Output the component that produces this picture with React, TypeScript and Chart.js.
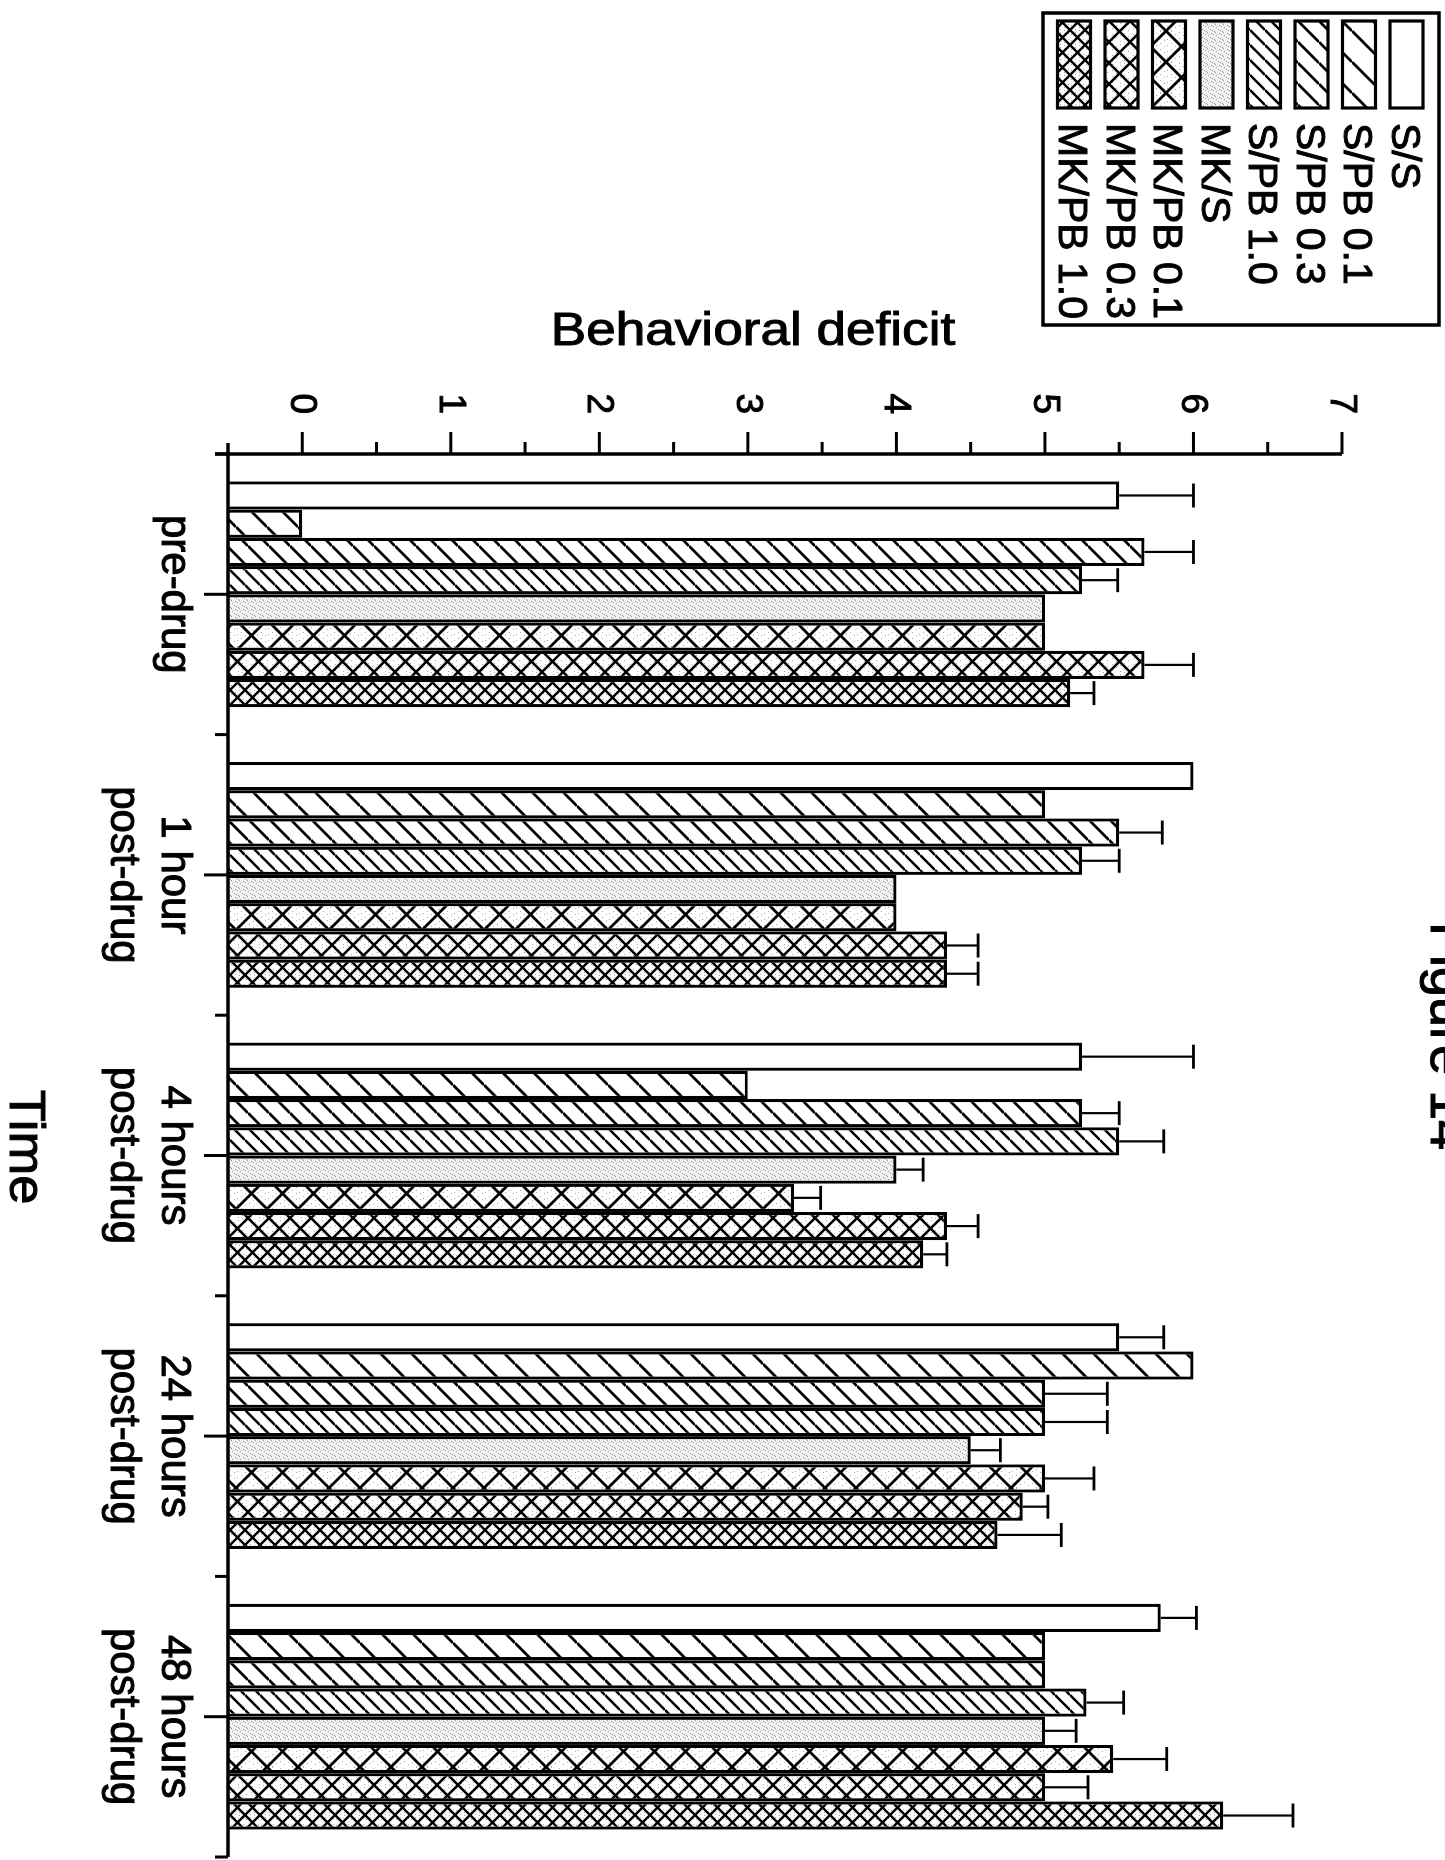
import React, { useEffect, useRef } from 'react';
import { Chart, registerables } from 'chart.js';

Chart.register(...registerables);

// ---------- data ----------
const categories: string[][] = [
  ['pre-drug'],
  ['1 hour', 'post-drug'],
  ['4 hours', 'post-drug'],
  ['24 hours', 'post-drug'],
  ['48 hours', 'post-drug'],
];
const seriesNames = ['S/S', 'S/PB 0.1', 'S/PB 0.3', 'S/PB 1.0', 'MK/S', 'MK/PB 0.1', 'MK/PB 0.3', 'MK/PB 1.0'];

const ssValues = [5.5, 6.0, 5.25, 5.5, 5.78];
const ssErrors = [0.5, 0, 0.75, 0.3, 0.24];
const spb01Values = [0.0, 5.0, 3.0, 6.0, 5.0];
const spb01Errors = [0, 0, 0, 0, 0];
const spb03Values = [5.67, 5.5, 5.25, 5.0, 5.0];
const spb03Errors = [0.33, 0.29, 0.25, 0.42, 0];
const spb10Values = [5.25, 5.25, 5.5, 5.0, 5.28];
const spb10Errors = [0.24, 0.25, 0.3, 0.42, 0.25];
const mksValues = [5.0, 4.0, 4.0, 4.5, 5.0];
const mksErrors = [0, 0, 0.18, 0.2, 0.21];
const mkpb01Values = [5.0, 4.0, 3.31, 5.0, 5.46];
const mkpb01Errors = [0, 0, 0.18, 0.33, 0.36];
const mkpb03Values = [5.67, 4.34, 4.34, 4.85, 5.0];
const mkpb03Errors = [0.33, 0.21, 0.21, 0.17, 0.29];
const mkpb10Values = [5.17, 4.34, 4.18, 4.68, 6.2];
const mkpb10Errors = [0.16, 0.21, 0.16, 0.43, 0.47];

const valueTicks = [0, 1, 2, 3, 4, 5, 6, 7];
const yTitle = 'Behavioral deficit';
const xTitle = 'Time';
const figureLabel = 'Figure 14';

const allValues = [ssValues, spb01Values, spb03Values, spb10Values, mksValues, mkpb01Values, mkpb03Values, mkpb10Values];
const allErrors = [ssErrors, spb01Errors, spb03Errors, spb10Errors, mksErrors, mkpb01Errors, mkpb03Errors, mkpb10Errors];

// ---------- styling ----------
const FONT = '"Liberation Sans", Arial, Helvetica, sans-serif';
const W = 1860;
const H = 1445;

type FillSpec = { kind: 'plain' } | { kind: 'stipple' } | { kind: 'hatch'; period: number; lw: number } | { kind: 'cross'; period: number; lw: number };
const fillSpecs: FillSpec[] = [
  { kind: 'plain' },
  { kind: 'hatch', period: 31, lw: 2.8 },
  { kind: 'hatch', period: 21, lw: 2.7 },
  { kind: 'hatch', period: 15, lw: 2.5 },
  { kind: 'stipple' },
  { kind: 'cross', period: 31, lw: 2.8 },
  { kind: 'cross', period: 21, lw: 2.6 },
  { kind: 'cross', period: 15, lw: 2.4 },
];

function makeFill(ctx: CanvasRenderingContext2D, spec: FillSpec): string | CanvasPattern {
  if (spec.kind === 'plain') return '#ffffff';
  if (spec.kind === 'stipple') {
    const c = document.createElement('canvas');
    c.width = 8;
    c.height = 8;
    const g = c.getContext('2d')!;
    g.fillStyle = '#f2f2f2';
    g.fillRect(0, 0, 8, 8);
    g.fillStyle = '#8f8f8f';
    const dots = [[1, 1], [5, 2], [3, 4], [7, 6], [2, 7], [6, 0], [0, 5]];
    dots.forEach(([x, y]) => g.fillRect(x, y, 1, 1));
    return ctx.createPattern(c, 'repeat')!;
  }
  const P = spec.period;
  const c = document.createElement('canvas');
  c.width = P;
  c.height = P;
  const g = c.getContext('2d')!;
  g.fillStyle = '#ffffff';
  g.fillRect(0, 0, P, P);
  if (spec.kind === 'cross') {
    g.fillStyle = '#a8a8a8';
    for (let y = 1; y < P; y += 4) {
      for (let x = (y * 3) % 5; x < P; x += 6) g.fillRect(x, y, 1, 1);
    }
  }
  g.strokeStyle = '#000';
  g.lineWidth = spec.lw;
  g.beginPath();
  for (const k of [-1, 0, 1]) {
    g.moveTo(k * P, P);
    g.lineTo(k * P + P, 0);
    if (spec.kind === 'cross') {
      g.moveTo(k * P, 0);
      g.lineTo(k * P + P, P);
    }
  }
  g.stroke();
  return ctx.createPattern(c, 'repeat')!;
}

function heavyText(ctx: CanvasRenderingContext2D, t: string, x: number, y: number) {
  ctx.fillText(t, x, y);
  ctx.strokeText(t, x, y);
}

function makeDecorPlugin(fills: (string | CanvasPattern)[]) {
  return {
    id: 'decor',
    afterDraw(chart: any) {
      const ctx: CanvasRenderingContext2D = chart.ctx;
      const xs = chart.scales.x;
      const ys = chart.scales.y;
      ctx.save();
      ctx.strokeStyle = '#000';
      ctx.fillStyle = '#000';

      // error bars (one-sided, upward)
      allValues.forEach((vals, di) => {
        const meta = chart.getDatasetMeta(di);
        meta.data.forEach((bar: any, i: number) => {
          const e = allErrors[di][i];
          if (!e) return;
          const x = bar.x;
          const y0 = ys.getPixelForValue(vals[i]);
          const y1 = ys.getPixelForValue(vals[i] + e);
          ctx.lineWidth = 2.2;
          ctx.beginPath();
          ctx.moveTo(x, y0);
          ctx.lineTo(x, y1);
          ctx.stroke();
          ctx.lineWidth = 2.8;
          ctx.beginPath();
          ctx.moveTo(x - 12, y1);
          ctx.lineTo(x + 12, y1);
          ctx.stroke();
        });
      });

      const axisY = ys.getPixelForValue(ys.min);
      const axisX = xs.left;

      // axis lines
      ctx.lineWidth = 3.5;
      ctx.beginPath();
      ctx.moveTo(axisX - 11, axisY);
      ctx.lineTo(xs.right, axisY);
      ctx.stroke();
      ctx.beginPath();
      ctx.moveTo(axisX, ys.getPixelForValue(ys.max));
      ctx.lineTo(axisX, axisY + 13);
      ctx.stroke();

      // value ticks
      ctx.lineWidth = 3;
      valueTicks.forEach((v) => {
        const y = ys.getPixelForValue(v);
        ctx.beginPath();
        ctx.moveTo(axisX, y);
        ctx.lineTo(axisX - 22, y);
        ctx.stroke();
        if (v < valueTicks[valueTicks.length - 1]) {
          const ym = ys.getPixelForValue(v + 0.5);
          ctx.beginPath();
          ctx.moveTo(axisX, ym);
          ctx.lineTo(axisX - 12, ym);
          ctx.stroke();
        }
      });
      ctx.lineWidth = 1;
      ctx.font = `37px ${FONT}`;
      ctx.textAlign = 'right';
      ctx.textBaseline = 'middle';
      valueTicks.forEach((v) => {
        heavyText(ctx, String(v), axisX - 40, ys.getPixelForValue(v) + 1);
      });

      // category ticks and labels
      ctx.lineWidth = 3;
      const n = categories.length;
      for (let i = 0; i <= n; i++) {
        const x = i === 0 ? xs.left : i === n ? xs.right : (xs.getPixelForValue(i - 1) + xs.getPixelForValue(i)) / 2;
        ctx.beginPath();
        ctx.moveTo(x, axisY);
        ctx.lineTo(x, axisY + 13);
        ctx.stroke();
      }
      categories.forEach((lines, i) => {
        const x = xs.getPixelForValue(i);
        ctx.lineWidth = 3;
        ctx.beginPath();
        ctx.moveTo(x, axisY);
        ctx.lineTo(x, axisY + 24);
        ctx.stroke();
      });
      ctx.font = `42px ${FONT}`;
      ctx.textAlign = 'center';
      ctx.textBaseline = 'alphabetic';
      ctx.lineWidth = 1;
      categories.forEach((lines, i) => {
        const x = xs.getPixelForValue(i);
        lines.forEach((t, li) => heavyText(ctx, t, x, axisY + 66 + li * 51));
      });

      // axis titles
      ctx.font = `47px ${FONT}`;
      ctx.save();
      ctx.translate(345, 692);
      ctx.rotate(-Math.PI / 2);
      ctx.scale(1.13, 1);
      ctx.textAlign = 'center';
      heavyText(ctx, yTitle, 0, 0);
      ctx.restore();
      ctx.save();
      ctx.font = `50px ${FONT}`;
      ctx.translate(1147, 1435);
      ctx.scale(1.05, 1);
      ctx.textAlign = 'center';
      heavyText(ctx, xTitle, 0, 0);
      ctx.restore();

      // figure label (cut by the page edge)
      ctx.font = `54px ${FONT}`;
      ctx.textAlign = 'left';
      heavyText(ctx, figureLabel, 922, 14);

      // legend
      ctx.lineWidth = 3.5;
      ctx.strokeRect(13, 6, 312, 396);
      ctx.font = `41px ${FONT}`;
      ctx.textAlign = 'left';
      seriesNames.forEach((name, i) => {
        const top = 22 + i * 47.5;
        ctx.fillStyle = fills[i] as any;
        ctx.fillRect(21, top, 87, 33);
        ctx.lineWidth = 3.2;
        ctx.strokeRect(21, top, 87, 33);
        ctx.fillStyle = '#000';
        ctx.lineWidth = 1;
        heavyText(ctx, name, 123, top + 31);
      });

      ctx.restore();
    },
  };
}

export default function App() {
  const ref = useRef<HTMLCanvasElement>(null);
  useEffect(() => {
    const canvas = ref.current!;
    const ctx = canvas.getContext('2d')!;
    const fills = fillSpecs.map((s) => makeFill(ctx, s));
    const chart = new Chart(canvas, {
      type: 'bar',
      data: {
        labels: categories as any,
        datasets: seriesNames.map((name, i) => ({
          label: name,
          data: allValues[i],
          backgroundColor: fills[i] as any,
          borderColor: '#000',
          borderWidth: 3.2,
          base: -0.5,
          borderSkipped: 'start',
          categoryPercentage: 0.805,
          barPercentage: 1.0,
        })) as any,
      },
      options: {
        responsive: false,
        animation: false,
        devicePixelRatio: 1,
        layout: { padding: { top: 103, right: 3, left: 0, bottom: 0 } },
        plugins: {
          legend: { display: false },
          tooltip: { enabled: false },
          title: { display: false },
        },
        scales: {
          x: {
            type: 'category',
            offset: true,
            grid: { display: false },
            border: { display: false },
            ticks: { display: false },
            afterFit: (s: any) => {
              s.height = 228;
            },
          },
          y: {
            type: 'linear',
            min: -0.5,
            max: 7,
            grid: { display: false },
            border: { display: false },
            ticks: { display: false },
            afterFit: (s: any) => {
              s.width = 454;
            },
          },
        },
      } as any,
      plugins: [makeDecorPlugin(fills)],
    });
    return () => chart.destroy();
  }, []);

  return (
    <div style={{ position: 'absolute', left: 0, top: 0, width: 1445, height: 1860, overflow: 'hidden', background: '#fff' }}>
      <div
        style={{
          position: 'absolute',
          left: 0,
          top: 0,
          width: W,
          height: H,
          transformOrigin: '0 0',
          transform: `translateX(${H}px) rotate(90deg)`,
        }}
      >
        <canvas ref={ref} width={W} height={H} style={{ display: 'block', width: W, height: H }} />
      </div>
    </div>
  );
}
